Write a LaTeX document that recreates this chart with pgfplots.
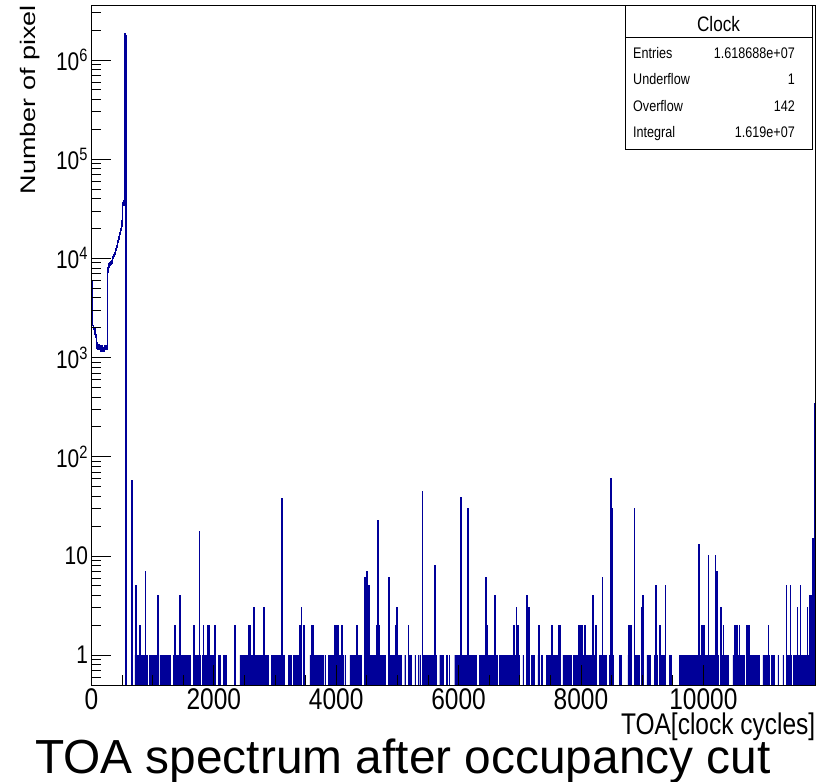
\documentclass[border=0pt]{standalone}
\usepackage{fontspec}
\setmainfont{Liberation Sans}[FakeStretch=0.82]
\newfontfamily\plainsans{Liberation Sans}
\usepackage{pgfplots}
\pgfplotsset{compat=1.18}
\definecolor{hb}{RGB}{0,0,153}
\begin{document}
\begin{tikzpicture}[x=1bp,y=1bp]
\begin{axis}[
  at={(0,0)}, anchor=south west,
  width=724.2bp, height=679bp, scale only axis,
  xmin=0, xmax=11836, ymode=log, ymin=0.5, ymax=3.5e6,
  log origin y=infty,
  axis on top,
  axis line style={line width=1bp},
  tick style={line width=0.8bp, black},
  tick align=inside,
  xtick pos=left, ytick pos=left,
  major tick length=20bp, minor tick length=10bp,
  xtick={0,2000,4000,6000,8000,10000},
  scaled x ticks=false,
  minor x tick num=3,
  ytick={0.1,1,10,100,1000,10000,100000,1000000,10000000},
  yticklabel={\pgfmathtruncatemacro{\e}{round(\tick/2.302585093)}\ifnum\e=0 1\else\ifnum\e=1 10\else 10\textsuperscript{\e}\fi\fi},
  /pgf/number format/assume math mode=true,
  /pgf/number format/1000 sep={},
  xticklabel style={font=\fontsize{30}{30}\selectfont},
  yticklabel style={font=\fontsize{25.6}{25.6}\selectfont},
]
% early part of the spectrum (outline only)
\addplot[const plot, draw=hb, line width=1.5bp] table[row sep=\\] {
x y\\
0 19600\\ 3 6000\\ 6 3000\\ 10 2200\\ 19 2100\\ 30 1950\\ 45 2000\\ 57 1700\\ 70 1600\\ 84 1400\\
92 1250\\ 100 1300\\ 108 1200\\ 116 1350\\ 124 1250\\ 132 1200\\ 140 1300\\ 148 1150\\ 156 1250\\ 164 1200\\
172 1300\\ 180 1150\\ 188 1200\\ 196 1250\\ 204 1150\\ 212 1200\\ 220 1300\\ 228 1200\\ 236 1250\\ 244 1200\\
250 1300\\ 258 7200\\ 266 8000\\ 274 8600\\ 282 8200\\ 290 8800\\ 298 8500\\ 306 9000\\ 314 8700\\ 322 9200\\
330 9000\\ 338 9400\\ 346 10000\\ 354 10300\\ 362 10500\\ 370 10800\\ 378 11000\\ 386 11500\\ 394 12000\\ 402 12500\\
410 13000\\ 418 13500\\ 426 14500\\ 434 15000\\ 442 15500\\ 450 16500\\ 458 17500\\ 466 18000\\ 474 19000\\ 482 20000\\
490 21000\\ 498 24000\\ 506 35000\\ 514 36000\\ 522 34000\\ 530 38000\\ 538 1600000\\ 546 1850000\\ 554 1750000\\ 563 0.01\\
600 0.01\\
};
% band of single-count bins
\addplot[const plot, fill=hb, draw=hb, line width=0.4bp] table[row sep=\\] {
x y\\
600 0.01\\
656 1\\ 668 0.01\\ 710 1\\ 781 0.01\\ 819 1\\ 857 0.01\\ 901 1\\ 917 0.01\\ 944 1\\ 1097 0.01\\
1118 1\\ 1151 0.01\\ 1173 1\\ 1183 0.01\\ 1206 1\\ 1216 0.01\\ 1238 1\\ 1248 0.01\\ 1271 1\\ 1293 0.01\\
1336 1\\ 1346 0.01\\ 1391 1\\ 1401 0.01\\ 1418 1\\ 1445 0.01\\ 1472 1\\ 1527 0.01\\ 1554 1\\ 1608 0.01\\
1663 1\\ 1706 0.01\\ 1728 1\\ 1783 0.01\\ 1810 1\\ 1897 0.01\\ 1924 1\\ 2027 0.01\\ 2071 1\\ 2098 0.01\\
2153 1\\ 2207 0.01\\ 2332 1\\ 2342 0.01\\ 2425 1\\ 2550 0.01\\ 2572 1\\ 2833 0.01\\ 2860 1\\ 2893 0.01\\
2942 1\\ 2996 0.01\\ 3023 1\\ 3078 0.01\\ 3132 1\\ 3142 0.01\\ 3214 1\\ 3268 0.01\\ 3296 1\\ 3432 0.01\\
3568 1\\ 3786 0.01\\ 3813 1\\ 3823 0.01\\ 3867 1\\ 3895 0.01\\ 3922 1\\ 4112 0.01\\ 4140 1\\ 4150 0.01\\
4221 1\\ 4412 0.01\\ 4466 1\\ 4630 0.01\\ 4657 1\\ 4711 0.01\\ 4738 1\\ 4793 0.01\\ 4847 1\\ 5065 0.01\\
5119 1\\ 5129 0.01\\ 5174 1\\ 5228 0.01\\ 5283 1\\ 5293 0.01\\ 5337 1\\ 5347 0.01\\ 5364 1\\ 5374 0.01\\
5419 1\\ 5636 0.01\\ 5691 1\\ 5745 0.01\\ 5800 1\\ 5810 0.01\\ 5843 1\\ 5853 0.01\\ 5936 1\\ 6290 0.01\\
6344 1\\ 6562 0.01\\ 6616 1\\ 6626 0.01\\ 6670 1\\ 6997 0.01\\ 7052 1\\ 7062 0.01\\ 7106 1\\ 7116 0.01\\
7188 1\\ 7242 0.01\\ 7297 1\\ 7307 0.01\\ 7351 1\\ 7361 0.01\\ 7432 1\\ 7650 0.01\\ 7705 1\\ 7841 0.01\\
7879 1\\ 7977 0.01\\ 8032 1\\ 8113 0.01\\ 8141 1\\ 8222 0.01\\ 8304 1\\ 8358 0.01\\ 8385 1\\ 8412 0.01\\
8467 1\\ 8522 0.01\\ 8630 1\\ 8658 0.01\\ 8767 1\\ 8777 0.01\\ 8875 1\\ 8957 0.01\\ 9011 1\\ 9021 0.01\\
9077 1\\ 9131 0.01\\ 9202 1\\ 9240 0.01\\ 9284 1\\ 9365 0.01\\ 9447 1\\ 9474 0.01\\ 9610 1\\ 9910 0.01\\
9937 1\\ 10155 0.01\\ 10182 1\\ 10236 0.01\\ 10290 1\\ 10399 0.01\\ 10481 1\\ 10672 0.01\\ 10699 1\\ 10917 0.01\\
10971 1\\ 11080 0.01\\ 11107 1\\ 11161 0.01\\ 11216 1\\ 11226 0.01\\ 11298 1\\ 11308 0.01\\ 11352 1\\ 11434 0.01\\
11472 1\\ 11570 0.01\\ 11597 1\\ 11836 1\\ 11900 0.01\\
};
% bins with more than one count
\addplot[const plot, fill=hb, draw=hb, line width=1.1bp] table[row sep=\\] {
x y\\
600 0.01\\
656 58\\ 666 0.01\\ 727 5\\ 737 0.01\\ 787 2\\ 797 0.01\\ 879 7\\ 889 0.01\\ 1081 4\\ 1091 0.01\\
1358 2\\ 1368 0.01\\ 1445 4\\ 1455 0.01\\ 1674 2\\ 1684 0.01\\ 1761 17.5\\ 1771 0.01\\ 1826 2\\ 1836 0.01\\
1894 2\\ 1904 0.01\\ 1920 2\\ 1930 0.01\\ 2017 2\\ 2027 0.01\\ 2343 2\\ 2353 0.01\\ 2572 2\\ 2582 0.01\\
2590 2\\ 2600 0.01\\ 2654 3\\ 2664 0.01\\ 2817 3\\ 2827 0.01\\ 3106 38\\ 3116 6\\ 3126 0.01\\
3394 2\\ 3402 0.01\\ 3405 2\\ 3413 0.01\\ 3426 3\\ 3436 0.01\\ 3470 2\\ 3480 0.01\\ 3593 2\\ 3603 0.01\\
3620 2\\ 3630 0.01\\ 3977 2\\ 3987 0.01\\ 4000 2\\ 4010 0.01\\ 4020 2\\ 4030 0.01\\ 4086 2\\ 4096 0.01\\
4336 2\\ 4346 0.01\\ 4470 6\\ 4480 0.01\\ 4492 7\\ 4502 0.01\\ 4513 2\\ 4523 0.01\\ 4535 5\\ 4545 0.01\\
4655 2\\ 4665 0.01\\ 4673 23\\ 4683 0.01\\ 4690 2\\ 4700 0.01\\ 4853 6\\ 4863 0.01\\ 4970 2\\ 4980 0.01\\
4984 3\\ 4994 0.01\\ 5174 2\\ 5184 0.01\\ 5403 45\\ 5413 0.01\\ 5605 8\\ 5615 0.01\\ 6039 39\\ 6049 0.01\\
6154 30\\ 6164 0.01\\ 6443 6\\ 6453 0.01\\ 6464 2\\ 6474 0.01\\ 6585 4\\ 6595 0.01\\ 6905 2\\ 6915 0.01\\
6943 3\\ 6953 0.01\\ 6960 2\\ 6970 0.01\\ 7107 4\\ 7117 0.01\\ 7150 3\\ 7160 0.01\\ 7313 2\\ 7323 0.01\\
7520 2\\ 7530 0.01\\ 7634 2\\ 7644 0.01\\ 7660 2\\ 7670 0.01\\ 7961 2\\ 7971 0.01\\ 7989 2\\ 7999 0.01\\
8010 2\\ 8020 0.01\\ 8064 2\\ 8074 0.01\\ 8190 4\\ 8200 0.01\\ 8239 2\\ 8249 0.01\\ 8348 6\\ 8358 0.01\\
8483 60\\ 8503 30\\ 8513 0.01\\ 8778 2\\ 8788 0.01\\ 8810 2\\ 8820 0.01\\ 8870 30\\ 8880 0.01\\
8990 3\\ 9000 0.01\\ 9011 4\\ 9021 0.01\\ 9219 5\\ 9229 0.01\\ 9290 2\\ 9300 0.01\\ 9377 5\\ 9387 0.01\\
9921 13\\ 9931 0.01\\ 9970 2\\ 9980 0.01\\ 10000 2\\ 10010 0.01\\ 10079 10\\ 10089 0.01\\ 10193 10\\ 10203 0.01\\
10213 7\\ 10223 0.01\\ 10286 3\\ 10296 0.01\\ 10324 2\\ 10334 0.01\\ 10516 2\\ 10526 0.01\\ 10540 2\\ 10550 0.01\\
10585 2\\ 10595 0.01\\ 10713 2\\ 10723 0.01\\ 10744 2\\ 10754 0.01\\ 11058 2\\ 11068 0.01\\ 11352 5\\ 11362 0.01\\
11418 5\\ 11428 0.01\\ 11532 3\\ 11542 0.01\\ 11581 5\\ 11591 0.01\\ 11696 3\\ 11706 0.01\\
11741 4\\ 11780 15\\ 11815 340\\ 11900 0.01\\
};
\end{axis}
% statistics box
\draw[fill=white, line width=1bp] (533.5,535) rectangle (720.5,679);
\draw[line width=1bp] (533.5,647.3) -- (720.5,647.3);
\node[anchor=base, inner sep=0, font=\fontsize{21}{21}\selectfont] at (627,653) {Clock};
\begin{scope}[every node/.style={inner sep=0, font=\fontsize{15.4}{15.4}\selectfont}]
\node[anchor=base west] at (541.5,626) {Entries};
\node[anchor=base east] at (703.5,626) {1.618688e+07};
\node[anchor=base west] at (541.5,600) {Underflow};
\node[anchor=base east] at (703.5,600) {1};
\node[anchor=base west] at (541.5,573) {Overflow};
\node[anchor=base east] at (703.5,573) {142};
\node[anchor=base west] at (541.5,547) {Integral};
\node[anchor=base east] at (703.5,547) {1.619e+07};
\end{scope}
% axis titles
\node[rotate=90, anchor=base east, inner sep=0] at (-55.8,680)
  {\scalebox{1}[0.78]{\plainsans\fontsize{27.1}{27.1}\selectfont Number of pixel}};
\node[anchor=base east, inner sep=0, font=\fontsize{30}{30}\selectfont] at (724,-50) {TOA[clock cycles]};
\node[anchor=base west, inner sep=0, font=\plainsans\fontsize{48}{48}\selectfont] at (-56.5,-88)
  {TOA spectrum after occupancy cut};
\pgfresetboundingbox
\path[use as bounding box] (-91.5,-97) rectangle (733.5,685);
\end{tikzpicture}
\end{document}
